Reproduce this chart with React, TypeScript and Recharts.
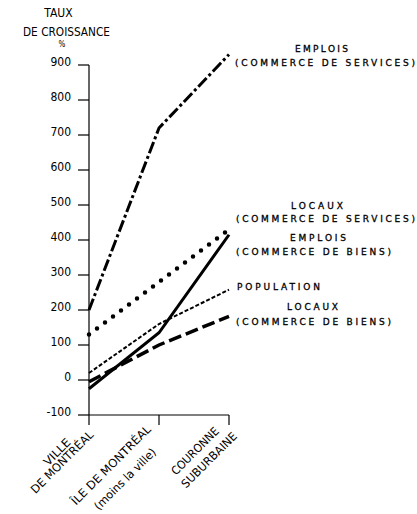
import React from 'react';
import { LineChart, Line, XAxis, YAxis, ReferenceLine } from 'recharts';

// ---- data ----
const CATEGORIES = ['VILLE DE MONTRÉAL', 'ÎLE DE MONTRÉAL (moins la ville)', 'COURONNE SUBURBAINE'];
const CATEGORY_LINES = [
  ['VILLE', 'DE MONTRÉAL'],
  ['ÎLE DE MONTRÉAL', '(moins la ville)'],
  ['COURONNE', 'SUBURBAINE'],
];
const EMPLOIS_SERVICES = [200, 720, 930];
const LOCAUX_SERVICES = [130, 280, 430];
const EMPLOIS_BIENS = [-25, 135, 415];
const POPULATION = [20, 160, 258];
const LOCAUX_BIENS = [-5, 100, 182];
const Y_TICKS = [-100, 0, 100, 200, 300, 400, 500, 600, 700, 800, 900];
const TITLE_LINES = ['TAUX', 'DE CROISSANCE', '%'];
const SERIES_LABELS = [
  ['EMPLOIS', '(COMMERCE DE SERVICES)'],
  ['LOCAUX', '(COMMERCE DE SERVICES)'],
  ['EMPLOIS', '(COMMERCE DE BIENS)'],
  ['POPULATION'],
  ['LOCAUX', '(COMMERCE DE BIENS)'],
];

const data = CATEGORIES.map((c, i) => ({
  cat: c,
  es: EMPLOIS_SERVICES[i],
  ls: LOCAUX_SERVICES[i],
  eb: EMPLOIS_BIENS[i],
  pop: POPULATION[i],
  lb: LOCAUX_BIENS[i],
}));

// ---- styling / layout ----
const NARROW = "'Liberation Sans Narrow', 'DejaVu Sans Condensed', 'Liberation Sans', sans-serif";
const WIDE = "'DejaVu Sans', sans-serif";

const X_LABEL_OFFSETS = [
  [[-32, 27], [-27, 37]],
  [[-48, 40], [-34, 54]],
  [[-34, 26], [-20, 35]],
];
const X_LABEL_LENGTHS = [
  [33, 83],
  [107, 82],
  [62, 73],
];

const SERIES_LABEL_LAYOUT = [
  [['middle', 321.5, 49, 53], ['start', 235, 63, 180]],
  [['middle', 317, 206, 52], ['start', 236, 219, 179]],
  [['middle', 318, 238, 56], ['start', 236, 252, 155]],
  [['start', 237, 287, 83]],
  [['middle', 312.5, 307, 51], ['start', 236, 322, 155]],
];

const XTick = (props: any) => {
  const { x, y, payload } = props;
  const idx = payload && payload.index != null ? payload.index : props.index;
  const lines = CATEGORY_LINES[idx] || [];
  return (
    <g>
      {lines.map((t, j) => {
        const [dx, dy] = X_LABEL_OFFSETS[idx][j];
        const cx = x + dx;
        const cy = y + dy;
        return (
          <text
            key={j}
            x={cx}
            y={cy}
            textAnchor="middle"
            dominantBaseline="central"
            transform={`rotate(-45 ${cx} ${cy})`}
            fontFamily={NARROW}
            fontSize={11.5}
            fill="#000"
            textLength={X_LABEL_LENGTHS[idx][j]}
            lengthAdjust="spacingAndGlyphs"
          >
            {t}
          </text>
        );
      })}
    </g>
  );
};

const YTick = (props: any) => {
  const { x, y, payload } = props;
  return (
    <text
      x={x}
      y={y - 3}
      textAnchor="end"
      dominantBaseline="central"
      fontFamily={NARROW}
      fontSize={12}
      fill="#000"
    >
      {payload.value}
    </text>
  );
};

export default function App() {
  return (
    <div style={{ position: 'absolute', left: 0, top: 0, width: 417, height: 514, background: '#fff' }}>
      <LineChart
        width={417}
        height={514}
        data={data}
        margin={{ top: 30, right: 188, bottom: 0, left: 29 }}
      >
        <XAxis
          dataKey="cat"
          height={99}
          tickSize={10}
          tickMargin={0}
          interval={0}
          axisLine={{ stroke: '#000', strokeWidth: 1.2 }}
          tickLine={{ stroke: '#000', strokeWidth: 1.2 }}
          tick={<XTick />}
        />
        <YAxis
          width={60}
          domain={[-100, 1000]}
          ticks={Y_TICKS}
          tickSize={11}
          tickMargin={7}
          axisLine={false}
          tickLine={{ stroke: '#000', strokeWidth: 1.2 }}
          tick={<YTick />}
          allowDataOverflow
        />
        <ReferenceLine
          segment={[{ x: CATEGORIES[0], y: -100 }, { x: CATEGORIES[0], y: 900 }]}
          stroke="#000"
          strokeWidth={1.2}
          ifOverflow="visible"
        />
        <Line
          dataKey="es"
          type="linear"
          stroke="#000"
          strokeWidth={3}
          strokeDasharray="12 3 3 3"
          dot={false}
          isAnimationActive={false}
        />
        <Line
          dataKey="ls"
          type="linear"
          stroke="#000"
          strokeWidth={4.5}
          strokeDasharray="0 10"
          strokeLinecap="round"
          dot={false}
          isAnimationActive={false}
        />
        <Line
          dataKey="eb"
          type="linear"
          stroke="#000"
          strokeWidth={3}
          dot={false}
          isAnimationActive={false}
        />
        <Line
          dataKey="pop"
          type="linear"
          stroke="#000"
          strokeWidth={2}
          strokeDasharray="4 2"
          dot={false}
          isAnimationActive={false}
        />
        <Line
          dataKey="lb"
          type="linear"
          stroke="#000"
          strokeWidth={3.5}
          strokeDasharray="13 5"
          dot={false}
          isAnimationActive={false}
        />
      </LineChart>
      <svg
        width={417}
        height={514}
        style={{ position: 'absolute', left: 0, top: 0, pointerEvents: 'none' }}
      >
        <text x={58.5} y={13} textAnchor="middle" dominantBaseline="central" fontFamily={NARROW} fontSize={12} fill="#000">
          {TITLE_LINES[0]}
        </text>
        <text x={66.5} y={32} textAnchor="middle" dominantBaseline="central" fontFamily={NARROW} fontSize={12} fill="#000" textLength={87} lengthAdjust="spacingAndGlyphs">
          {TITLE_LINES[1]}
        </text>
        <text x={62} y={44} textAnchor="middle" dominantBaseline="central" fontFamily={NARROW} fontSize={8} fill="#000">
          {TITLE_LINES[2]}
        </text>
        {SERIES_LABELS.map((lines, i) =>
          lines.map((t, j) => {
            const [anchor, lx, ly, len] = SERIES_LABEL_LAYOUT[i][j] as [string, number, number, number];
            return (
              <text
                key={`${i}-${j}`}
                x={lx}
                y={ly}
                textAnchor={anchor as any}
                dominantBaseline="central"
                fontFamily={WIDE}
                fontSize={9}
                fill="#000"
                stroke="#000"
                strokeWidth={0.3}
                textLength={len}
                lengthAdjust="spacing"
              >
                {t}
              </text>
            );
          })
        )}
      </svg>
    </div>
  );
}
